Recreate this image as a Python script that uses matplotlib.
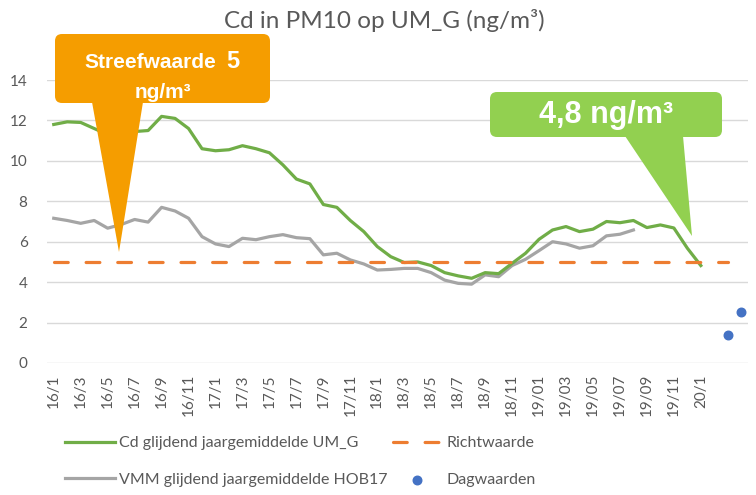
import matplotlib
matplotlib.use("Agg")
import matplotlib.pyplot as plt
import matplotlib.transforms as mtransforms
from matplotlib.patches import FancyBboxPatch, Polygon

plt.rcParams['font.family'] = ['Lato', 'DejaVu Sans']

# maanden 16/1 .. 20/4
months = [f"{y}/{m}" for y in (16, 17, 18, 19, 20) for m in range(1, 13)][:52]
tick_labels = ["16/1", "16/3", "16/5", "16/7", "16/9", "16/11",
               "17/1", "17/3", "17/5", "17/7", "17/9", "17/11",
               "18/1", "18/3", "18/5", "18/7", "18/9", "18/11",
               "19/01", "19/03", "19/05", "19/07", "19/09", "19/11", "20/1"]

cd_um_g = [11.8, 11.93, 11.9, 11.6, 11.3, 11.2, 11.45, 11.5, 12.2, 12.1,
           11.6, 10.6, 10.5, 10.55, 10.75, 10.6, 10.4, 9.8, 9.1, 8.86,
           7.84, 7.7, 7.05, 6.5, 5.76, 5.26, 4.97, 5.0, 4.82, 4.47,
           4.31, 4.19, 4.47, 4.42, 4.93, 5.43, 6.12, 6.58, 6.75, 6.5,
           6.62, 7.0, 6.94, 7.05, 6.7, 6.83, 6.68, 5.68, 4.82]
vmm_hob17 = [7.16, 7.05, 6.91, 7.05, 6.67, 6.85, 7.1, 6.97, 7.7, 7.52,
             7.16, 6.25, 5.89, 5.76, 6.17, 6.1, 6.25, 6.35, 6.2, 6.15,
             5.35, 5.43, 5.1, 4.9, 4.6, 4.63, 4.68, 4.68, 4.47, 4.1,
             3.94, 3.9, 4.36, 4.27, 4.82, 5.13, 5.56, 6.0, 5.89, 5.68,
             5.8, 6.29, 6.37, 6.58]
richtwaarde = [5] * 51
dag_idx = [50, 51]
dagwaarden = [1.4, 2.5]

W, H = 756, 495
fig = plt.figure(figsize=(W / 100, H / 100), dpi=100)
ax = fig.add_axes([47 / W, 1 - 363 / H, (748 - 47) / W, (363 - 80) / H])

txt = '#595959'
ax.plot(range(len(cd_um_g)), cd_um_g, color='#70AD47', lw=2.3,
        label='Cd glijdend jaargemiddelde UM_G', zorder=4)
ax.plot(range(len(vmm_hob17)), vmm_hob17, color='#A5A5A5', lw=2.3,
        label='VMM glijdend jaargemiddelde HOB17', zorder=3)
ax.plot(range(len(richtwaarde)), richtwaarde, color='#ED7D31', lw=2.3,
        ls=(0, (4.3, 5.6)), dash_capstyle='round', label='Richtwaarde', zorder=5)
ax.scatter(dag_idx, dagwaarden, s=38, color='#4472C4', label='Dagwaarden', zorder=5)

ax.set_xlim(-0.5, len(months) - 0.5)
ax.set_ylim(0, 14)
ax.set_yticks(range(0, 15, 2))
ax.set_xticks(range(0, 49, 2))
ax.set_xticklabels(tick_labels, rotation=90)
ax.tick_params(length=0, colors=txt, labelsize=11)
ax.tick_params(axis='x', pad=8)
ax.tick_params(axis='y', pad=14)
ax.grid(axis='y', color='#D9D9D9', lw=1)
ax.set_axisbelow(True)
for s in ax.spines.values():
    s.set_visible(False)

fig.text(384 / W, 1 - 21 / H, 'Cd in PM10 op UM_G (ng/m³)', ha='center', va='center',
         fontsize=17.5, color=txt)

# legenda
h, l = ax.get_legend_handles_labels()
fig.legend(h, l, ncol=2, frameon=False,
           loc='upper left', bbox_to_anchor=(65 / W, 1 - 436 / H), borderpad=0,
           fontsize=11.5, labelcolor=txt, handlelength=3.1, handletextpad=0.25,
           columnspacing=0.35, labelspacing=1.4, borderaxespad=0)

# callouts in pixelcoordinaten
px = mtransforms.Affine2D().scale(1 / W, -1 / H).translate(0, 1) + fig.transFigure

def callout(box, base, tip, color):
    x0, y0, x1, y1 = box
    fig.patches.append(FancyBboxPatch((x0, y0), x1 - x0, y1 - y0,
                                      boxstyle='round,pad=0,rounding_size=7',
                                      fc=color, ec='none', transform=px, zorder=10))
    fig.patches.append(Polygon([(base[0], y1 - 1), (base[1], y1 - 1), tip],
                               closed=True, fc=color, ec='none', transform=px, zorder=10))

callout((55, 34, 270, 103), (92, 143), (119, 252), '#F59D00')
callout((490, 92, 722, 137), (625, 683), (692, 236), '#92D050')

fig.text(84 / W, 1 - 63 / H, 'Streefwaarde', ha='left', va='center', color='white',
         fontsize=15, fontweight='bold', family='Liberation Sans', zorder=11)
fig.text(226 / W, 1 - 62 / H, '5', ha='left', va='center', color='white',
         fontsize=17, fontweight='bold', family='Liberation Sans', zorder=11)
fig.text(163 / W, 1 - 92 / H, 'ng/m³', ha='center', va='center', color='white',
         fontsize=15, fontweight='bold', family='Liberation Sans', zorder=11)
fig.text(606 / W, 1 - 115 / H, '4,8 ng/m³', ha='center', va='center', color='white',
         fontsize=22, fontweight='bold', family='Liberation Sans', zorder=11)

fig.savefig('out.png', dpi=100)
